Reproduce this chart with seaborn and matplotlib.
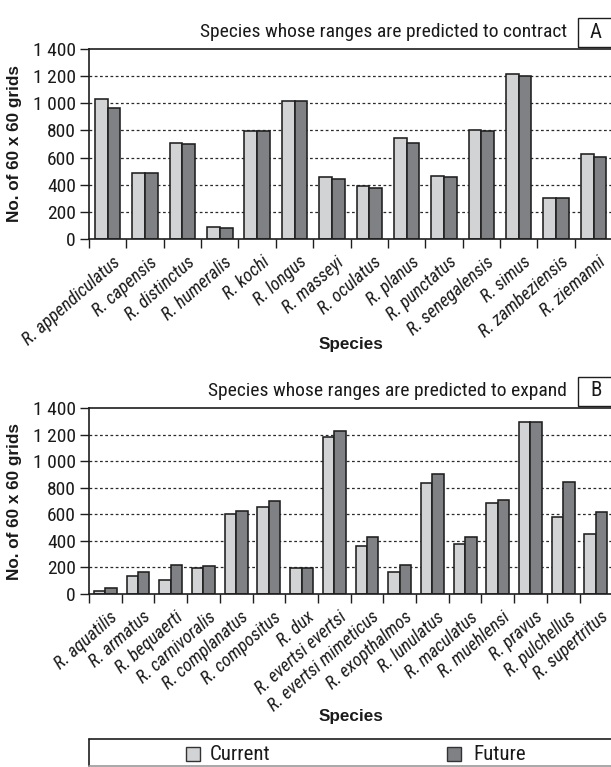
import matplotlib
matplotlib.use("Agg")
import matplotlib.pyplot as plt
import matplotlib.transforms as mtransforms
from matplotlib import font_manager
from matplotlib.lines import Line2D
from matplotlib.patches import Rectangle
from matplotlib.ticker import FixedLocator, FuncFormatter, NullFormatter
import numpy as np
import pandas as pd
import seaborn as sns

# ---- data -------------------------------------------------------------
contract_species = [
    "R. appendiculatus", "R. capensis", "R. distinctus", "R. humeralis",
    "R. kochi", "R. longus", "R. masseyi", "R. oculatus", "R. planus",
    "R. punctatus", "R. senegalensis", "R. simus", "R. zambeziensis",
    "R. ziemanni",
]
contract_current = [1028, 487, 710, 90, 795, 1018, 460, 392, 744, 465, 805, 1216, 299, 624]
contract_future = [967, 487, 702, 78, 795, 1018, 445, 379, 710, 458, 795, 1202, 299, 607]

expand_species = [
    "R. aquatilis", "R. armatus", "R. bequaerti", "R. carnivoralis",
    "R. complanatus", "R. compositus", "R. dux", "R. evertsi evertsi",
    "R. evertsi mimeticus", "R. exopthalmos", "R. lunulatus", "R. maculatus",
    "R. muehlensi", "R. pravus", "R. pulchellus", "R. supertritus",
]
expand_current = [25, 136, 103, 198, 605, 653, 198, 1181, 359, 163, 834, 377, 688, 1297, 580, 455]
expand_future = [43, 163, 221, 211, 628, 701, 198, 1224, 427, 221, 902, 430, 704, 1294, 844, 618]

periods = ["Current", "Future"]
y_ticks = [0, 200, 400, 600, 800, 1000, 1200, 1400]

# ---- style ------------------------------------------------------------
sns.set_theme(style="white")
available = {f.name for f in font_manager.fontManager.ttflist}
narrow = None
for cand in ["Liberation Sans Narrow", "Arial Narrow", "Roboto Condensed",
             "Noto Sans Condensed", "Open Sans Condensed"]:
    if cand in available:
        narrow = cand
        break
if narrow:
    body = narrow
    k = 1.0
else:
    body = "Liberation Sans"
    k = 0.87          # regular-width face needs a smaller size to fit
plt.rcParams["font.family"] = [body, "DejaVu Sans"]
BOLD_FAMILY = ["Liberation Sans", "DejaVu Sans"]

COL_CUR = "#d2d3d5"
COL_FUT = "#808184"
EDGE = "#1e1e1e"
TEXT = "#1a1a1a"
palette = {"Current": COL_CUR, "Future": COL_FUT}

W, H = 611, 767
fig = plt.figure(figsize=(W / 100, H / 100), dpi=100)


def fx(px):
    return px / W


def fy(py):
    return 1 - py / H


def long_table(species, cur, fut):
    return pd.DataFrame({
        "Species": species * 2,
        "value": list(cur) + list(fut),
        "period": [periods[0]] * len(species) + [periods[1]] * len(species),
    })


def thousands(v, _pos):
    return f"{v:,.0f}".replace(",", " ")


def panel(top_px, bottom_px, species, cur, fut, title, tag, bar_width):
    ax = fig.add_axes([fx(89), fy(bottom_px), fx(611) - fx(89) + 0.002,
                       fy(top_px) - fy(bottom_px)])
    df = long_table(species, cur, fut)
    sns.barplot(data=df, x="Species", y="value", hue="period",
                palette=palette, hue_order=periods, width=bar_width,
                edgecolor=EDGE, linewidth=1.15, legend=False, ax=ax,
                errorbar=None, saturation=1)
    n = len(species)
    ax.set_xlim(-0.5, n - 0.5)
    ax.set_ylim(0, 1400)

    # dashed reference lines
    for v in y_ticks[1:-1]:
        ax.axhline(v, color="#2a2a2a", lw=0.9, ls=(0, (2.2, 2.0)), zorder=0.5)

    for s in ["top", "left", "bottom"]:
        ax.spines[s].set_visible(True)
        ax.spines[s].set_color(EDGE)
        ax.spines[s].set_linewidth(1.2)
    ax.spines["right"].set_visible(False)

    ax.yaxis.set_major_locator(FixedLocator(y_ticks))
    ax.yaxis.set_major_formatter(FuncFormatter(thousands))
    ax.tick_params(axis="y", which="major", left=True, length=6.5, width=1.0,
                   color=EDGE, labelsize=14 * k, pad=3, labelcolor=TEXT)

    # category boundaries carry the x tick marks, centres carry the names
    ax.xaxis.set_minor_locator(FixedLocator(np.arange(n + 1) - 0.5))
    ax.xaxis.set_minor_formatter(NullFormatter())
    ax.tick_params(axis="x", which="minor", bottom=True, length=6.2, width=1.0,
                   color=EDGE)
    ax.tick_params(axis="x", which="major", bottom=False, length=0, pad=15)
    ax.set_xticks(range(n))
    ax.set_xticklabels(species, rotation=41.5, ha="right", va="center",
                       rotation_mode="anchor", fontsize=13.1 * k,
                       fontstyle="italic", color=TEXT)
    shift = mtransforms.ScaledTranslation(0.10, 0, fig.dpi_scale_trans)
    for lab in ax.get_xticklabels():
        lab.set_transform(lab.get_transform() + shift)

    ax.set_xlabel("Species", fontsize=12.3, fontweight="bold",
                  family=BOLD_FAMILY, color=TEXT)
    ax.set_ylabel("No. of 60 x 60 grids", fontsize=12.3, fontweight="bold",
                  family=BOLD_FAMILY, color=TEXT)
    ax.yaxis.label.set_va("center")
    ax.yaxis.set_label_coords((15 - 89) / (611 - 89), 0.5)

    # panel heading and tag box
    fig.text(fx(567), fy(top_px - 17), title, ha="right", va="center",
             fontsize=14 * k, color=TEXT)
    fig.patches.append(Rectangle((fx(578), fy(top_px - 2)), fx(40),
                                 fy(top_px - 31) - fy(top_px - 2),
                                 transform=fig.transFigure, fill=False,
                                 edgecolor=EDGE, lw=1.0))
    fig.text(fx(590), fy(top_px - 17), tag, ha="left", va="center",
             fontsize=15 * k, color=TEXT)
    return ax, bottom_px - top_px


ax_a, h_a = panel(49, 239, contract_species, contract_current, contract_future,
                  "Species whose ranges are predicted to contract", "A", 0.68)
ax_b, h_b = panel(408, 594, expand_species, expand_current, expand_future,
                  "Species whose ranges are predicted to expand", "B", 0.70)

# axis titles beneath the rotated names
ax_a.xaxis.set_label_coords(0.5, -(344 - 239) / h_a)
ax_b.xaxis.set_label_coords(0.5, -(716 - 594) / h_b)
ax_a.xaxis.label.set_va("center")
ax_b.xaxis.label.set_va("center")

# legend strip along the bottom
fig.lines.append(Line2D([fx(89), fx(611)], [fy(739), fy(739)],
                        transform=fig.transFigure, color=EDGE, lw=1.2))
fig.lines.append(Line2D([fx(89), fx(89)], [fy(739), fy(766)],
                        transform=fig.transFigure, color=EDGE, lw=1.2))
fig.lines.append(Line2D([fx(89), fx(611)], [fy(766), fy(766)],
                        transform=fig.transFigure, color="#9a9a9a", lw=1.2))
for label, sq_x, txt_x in [("Current", 186, 210), ("Future", 447, 473)]:
    fig.patches.append(Rectangle((fx(sq_x), fy(761)), fx(14), fy(747) - fy(761),
                                 transform=fig.transFigure,
                                 facecolor=palette[label], edgecolor="#333333",
                                 lw=1.0))
    fig.text(fx(txt_x), fy(754), label, ha="left", va="center",
             fontsize=15 * k, color=TEXT)

fig.savefig("out.png", dpi=100)
